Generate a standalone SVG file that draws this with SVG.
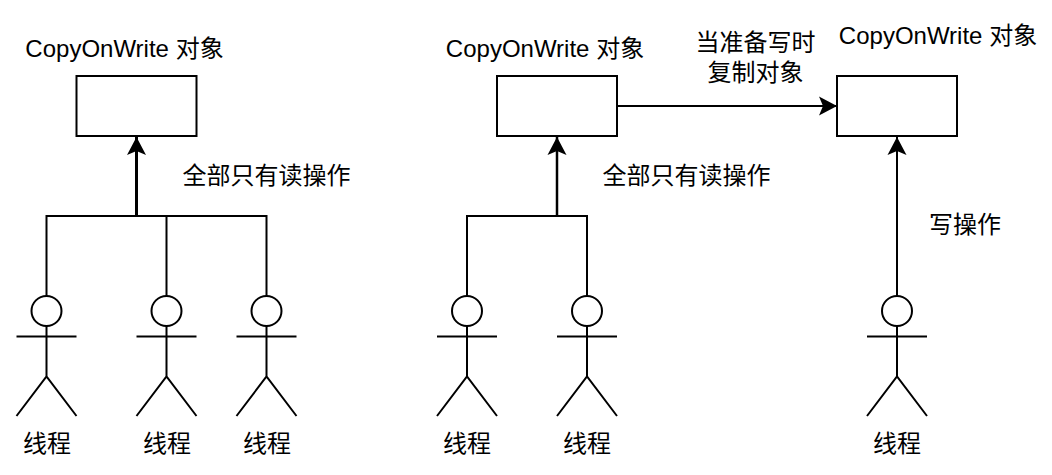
<svg xmlns="http://www.w3.org/2000/svg" xmlns:xlink="http://www.w3.org/1999/xlink" width="1052" height="475" viewBox="0 0 1052 475">
<style>
text{font-family:"Liberation Sans","Noto Sans CJK SC",sans-serif;font-size:24px;fill:#000;text-anchor:middle}
.box{fill:#fff;stroke:#000;stroke-width:2}
.line{fill:none;stroke:#000;stroke-width:2}
</style>
<defs>
<marker id="arrow" markerUnits="userSpaceOnUse" markerWidth="20" markerHeight="20" refX="18" refY="10" orient="auto">
<path d="M18 10L0 19.500L4 10L0 0.500Z" fill="#000"/>
</marker>
<g id="actor">
<ellipse class="line" cx="0" cy="311" rx="15" ry="15"/>
<path class="line" d="M0 326V376.500M-30 336.500H30M-30 416L0 376.500L30 416"/>
</g>
</defs>
<rect width="1052" height="475" fill="#fff"/>
<g id="connectors">
<path class="line" d="M46.500 296V216H266.500V296M166.500 216V296"/>
<path class="line" style="stroke-width:3" d="M136.500 216V137" marker-end="url(#arrow)"/>
<path class="line" d="M467 296V216H587V296"/>
<path class="line" style="stroke-width:2.500" d="M557 216V137" marker-end="url(#arrow)"/>
<path class="line" d="M617 106H837" marker-end="url(#arrow)"/>
<path class="line" d="M897 296V137" marker-end="url(#arrow)"/>
</g>
<g id="object-a"><rect class="box" x="76.500" y="76" width="120" height="60"/><text x="124.500" y="57">CopyOnWrite 对象</text></g>
<g id="object-b"><rect class="box" x="497" y="76" width="120" height="60"/><text x="545" y="57">CopyOnWrite 对象</text></g>
<g id="object-c"><rect class="box" x="837" y="76" width="120" height="60"/><text x="938" y="44">CopyOnWrite 对象</text></g>
<g id="label-read-a"><text x="266.500" y="184">全部只有读操作</text></g>
<g id="label-read-b"><text x="686.500" y="184">全部只有读操作</text></g>
<g id="label-copy"><text x="755.500" y="51">当准备写时</text><text x="755.500" y="81">复制对象</text></g>
<g id="label-write"><text x="965" y="233">写操作</text></g>
<g id="thread-1"><use href="#actor" x="46.500"/><text x="47" y="452">线程</text></g>
<g id="thread-2"><use href="#actor" x="166.500"/><text x="167" y="452">线程</text></g>
<g id="thread-3"><use href="#actor" x="266.500"/><text x="267" y="452">线程</text></g>
<g id="thread-4"><use href="#actor" x="467"/><text x="467" y="452">线程</text></g>
<g id="thread-5"><use href="#actor" x="587"/><text x="587" y="452">线程</text></g>
<g id="thread-6"><use href="#actor" x="897"/><text x="897" y="452">线程</text></g>
</svg>
